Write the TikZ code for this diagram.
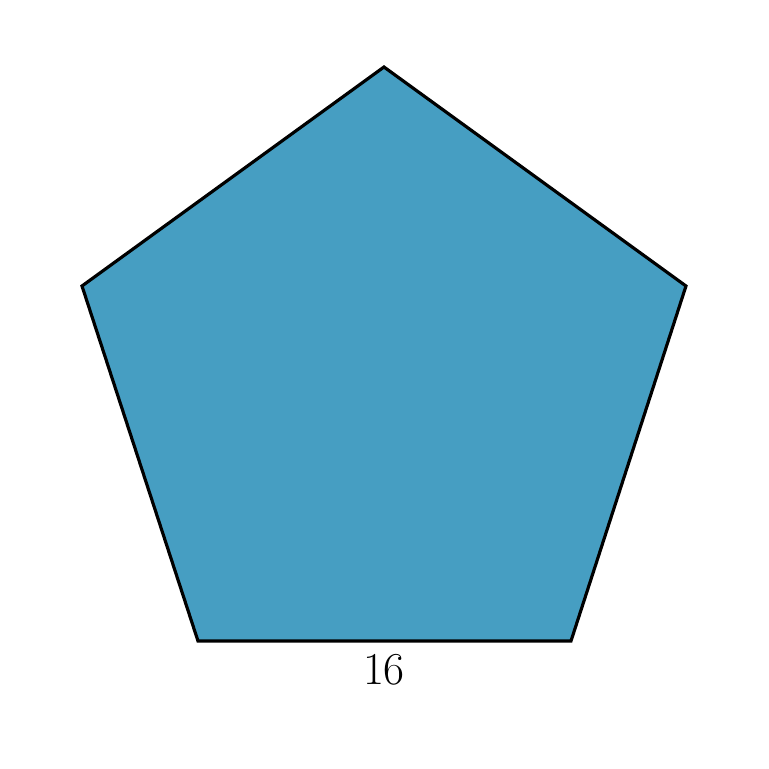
\documentclass[tikz,border=0pt]{standalone}
\usepackage{tikz}
\definecolor{pentfill}{RGB}{70,158,194}
\tikzset{
  pent/.style={draw=black, fill=pentfill, line width=1.8pt, line join=miter},
  sidelabel/.style={font=\fontsize{26}{31}\selectfont, inner sep=0pt}
}
\begin{document}
\begin{tikzpicture}[x=0.02cm,y=0.02cm]
  \useasboundingbox (-384,-385) rectangle (385,384);
  \coordinate (T) at (0,317);
  \coordinate (R) at (302,98);
  \coordinate (BR) at (187,-257);
  \coordinate (BL) at (-186,-257);
  \coordinate (L) at (-302,98);
  \draw[pent] (T) -- (R) -- (BR) -- (BL) -- (L) -- cycle;
  \node[sidelabel] (len) at (0,-286) {16};
\end{tikzpicture}
\end{document}
